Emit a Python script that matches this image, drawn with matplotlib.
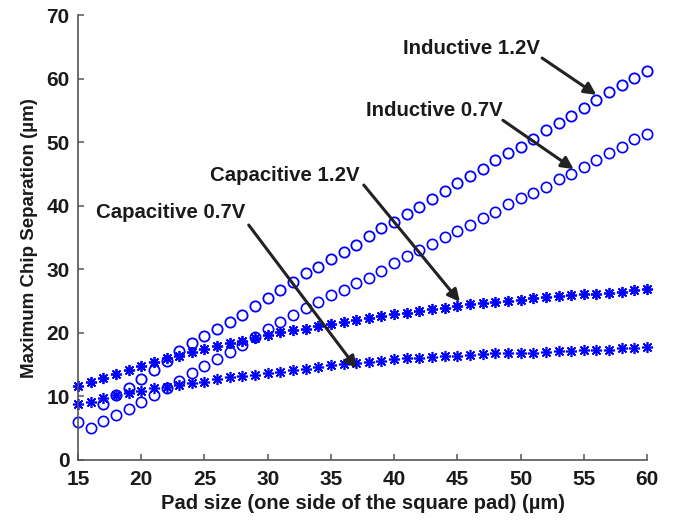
import numpy as np
import matplotlib
matplotlib.use("Agg")
import matplotlib.pyplot as plt

plt.rcParams['font.family'] = ['Liberation Sans', 'DejaVu Sans']
plt.rcParams['font.weight'] = 'bold'

# pad size (um), one point per micron
pad = np.arange(15, 61)

# Inductive 1.2V only starts at 17 um
pad_ind12 = np.arange(17, 61)
ind_12 = [8.8, 10.2, 11.4, 12.8, 14.1, 15.6, 17.2, 18.4, 19.5, 20.6,
          21.8, 22.9, 24.2, 25.5, 26.7, 28.1, 29.4, 30.4, 31.7, 32.7,
          33.9, 35.2, 36.5, 37.5, 38.8, 39.8, 41.1, 42.3, 43.6, 44.7,
          45.9, 47.2, 48.3, 49.3, 50.6, 52.0, 53.1, 54.2, 55.4, 56.7,
          57.9, 59.1, 60.1, 61.2]

ind_07 = [6.0, 5.1, 6.1, 7.1, 8.1, 9.2, 10.2, 11.3, 12.5, 13.7,
          14.8, 15.9, 17.0, 18.1, 19.4, 20.6, 21.8, 22.8, 23.9, 24.9,
          26.0, 26.8, 27.8, 28.6, 29.8, 31.0, 32.1, 33.1, 34.0, 35.1,
          36.0, 37.0, 38.1, 39.1, 40.3, 41.3, 42.1, 43.0, 44.2, 45.1,
          46.2, 47.2, 48.3, 49.3, 50.5, 51.4]

cap_12 = [11.7, 12.3, 12.9, 13.5, 14.2, 14.8, 15.5, 16.0, 16.4, 17.0,
          17.5, 18.0, 18.4, 18.8, 19.2, 19.7, 20.1, 20.5, 20.7, 21.1,
          21.4, 21.8, 22.0, 22.3, 22.7, 23.0, 23.2, 23.4, 23.7, 24.0,
          24.3, 24.6, 24.8, 24.9, 25.1, 25.2, 25.5, 25.6, 25.8, 26.0,
          26.1, 26.2, 26.3, 26.5, 26.7, 26.9]

cap_07 = [8.8, 9.2, 9.7, 10.2, 10.5, 10.9, 11.3, 11.5, 11.8, 12.1,
          12.3, 12.7, 13.0, 13.2, 13.4, 13.7, 13.9, 14.2, 14.4, 14.6,
          14.9, 15.1, 15.3, 15.5, 15.6, 15.9, 16.0, 16.0, 16.2, 16.3,
          16.4, 16.5, 16.7, 16.8, 16.9, 16.8, 16.9, 17.0, 17.1, 17.2,
          17.3, 17.4, 17.4, 17.6, 17.6, 17.8]

# label text, text anchor (left, baseline), arrow tail, arrow tip
labels = ["Inductive 1.2V", "Inductive 0.7V", "Capacitive 1.2V", "Capacitive 0.7V"]
label_xy = [(40.7, 63.9), (37.8, 54.1), (25.4, 44.0), (16.4, 38.1)]
arrow_from = [(51.7, 63.3), (48.6, 53.5), (37.6, 43.3), (28.5, 37.0)]
arrow_to = [(56.0, 57.5), (54.2, 45.8), (45.2, 24.9), (37.05, 14.4)]

fig = plt.figure(figsize=(6.82, 5.2), dpi=100)
ax = fig.add_axes([0.1144, 0.1154, 0.8343, 0.8548])

blue = (0, 0, 1)
ax.plot(pad_ind12, ind_12, 'o', ms=7.4, mfc='none', mec=blue, mew=1.3, clip_on=False)
ax.plot(pad, ind_07, 'o', ms=7.4, mfc='none', mec=blue, mew=1.2, clip_on=False)
ax.plot(pad, cap_12, ls='none', marker=(8, 2, 0), ms=8, mec=blue, mew=1.3, clip_on=False)
ax.plot(pad, cap_07, ls='none', marker=(8, 2, 0), ms=8, mec=blue, mew=1.2, clip_on=False)

for txt, (tx, ty), p0, p1 in zip(labels, label_xy, arrow_from, arrow_to):
    ax.text(tx, ty, txt, fontsize=14.7, fontweight='bold', color='#1a1a1a',
            ha='left', va='baseline')
    ax.annotate('', xy=p1, xytext=p0,
                arrowprops=dict(arrowstyle='-|>', color='#222222', lw=2.2,
                                mutation_scale=18, shrinkA=0, shrinkB=0))

ax.set_xlim(15, 60)
ax.set_ylim(0, 70)
ax.set_xticks(np.arange(15, 61, 5))
ax.set_yticks(np.arange(0, 71, 10))

ax.spines['top'].set_visible(False)
ax.spines['right'].set_visible(False)
for s in ('left', 'bottom'):
    ax.spines[s].set_color('#555555')
    ax.spines[s].set_linewidth(1.2)
ax.tick_params(direction='in', length=4, width=1.1, color='#555555',
               labelsize=15, labelcolor='#1a1a1a')
ax.tick_params(axis='x', pad=7)
ax.tick_params(axis='y', pad=6)

ax.set_xlabel("Pad size (one side of the square pad) (µm)", fontsize=14.5,
              fontweight='bold', color='#1a1a1a', labelpad=4)
ax.set_ylabel("Maximum Chip Separation (µm)", fontsize=13.5,
              fontweight='bold', color='#1a1a1a', labelpad=6)

fig.savefig("out.png", dpi=100)
